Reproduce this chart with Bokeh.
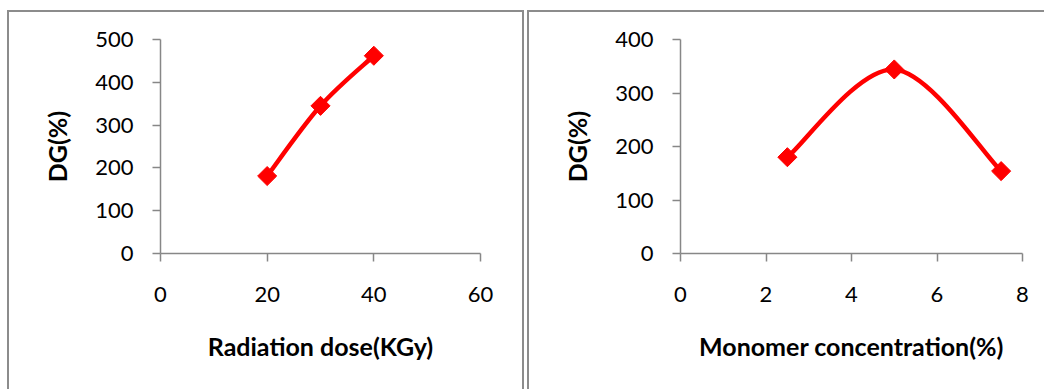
import numpy as np
from bokeh.plotting import figure
from bokeh.layouts import row
from bokeh.models import Range1d, FixedTicker, ColumnDataSource, InlineStyleSheet
from bokeh.embed import file_html
from bokeh.resources import INLINE

# ---- data ----
dose = [20, 30, 40]
dg_dose = [181, 345, 462]
dose_ticks = [0, 20, 40, 60]
dg_dose_ticks = [0, 100, 200, 300, 400, 500]

conc = [2.5, 5, 7.5]
dg_conc = [180, 344, 154]
conc_ticks = [0, 2, 4, 6, 8]
dg_conc_ticks = [0, 100, 200, 300, 400]

RED = "#ff0000"
GRAY = "#878787"
FRAME = "#8c8c8c"
FONT = "Lato"


def smooth_segments(xs, ys, t=1.0 / 6.0):
    xs = np.asarray(xs, float)
    ys = np.asarray(ys, float)
    n = len(xs)
    px = np.concatenate([[xs[0]], xs, [xs[-1]]])
    py = np.concatenate([[ys[0]], ys, [ys[-1]]])
    d = dict(x0=[], y0=[], x1=[], y1=[], cx0=[], cy0=[], cx1=[], cy1=[])
    for i in range(n - 1):
        a, b, c, e = i, i + 1, i + 2, i + 3
        d["x0"].append(px[b]); d["y0"].append(py[b])
        d["x1"].append(px[c]); d["y1"].append(py[c])
        d["cx0"].append(px[b] + (px[c] - px[a]) * t)
        d["cy0"].append(py[b] + (py[c] - py[a]) * t)
        d["cx1"].append(px[c] - (px[e] - px[b]) * t)
        d["cy1"].append(py[c] - (py[e] - py[b]) * t)
    return ColumnDataSource(d)


def frame_css(left, width, right_border):
    rb = f"2px solid {FRAME}" if right_border else "none"
    return InlineStyleSheet(css=f"""
:host {{ position: relative; }}
:host::after {{
  content: "";
  position: absolute;
  left: {left}px; top: 9.5px;
  width: {width}px; height: 379.5px;
  box-sizing: border-box;
  border-left: 2px solid {FRAME};
  border-top: 2px solid {FRAME};
  border-right: {rb};
  border-bottom: none;
  pointer-events: none;
  z-index: 10;
}}
""")


def make_panel(xs, ys, xr, yr, xt, yt, xlabel, width, bl, br, css):
    p = figure(width=width, height=389, output_backend="svg", toolbar_location=None,
               x_range=Range1d(*xr), y_range=Range1d(*yr),
               min_border_left=bl, min_border_right=br,
               min_border_top=39, min_border_bottom=136,
               stylesheets=[css])
    p.outline_line_color = None
    p.grid.visible = False
    p.background_fill_color = "white"
    p.border_fill_color = "white"

    for ax in (p.xaxis[0], p.yaxis[0]):
        ax.axis_line_color = GRAY
        ax.axis_line_width = 1.5
        ax.major_tick_line_color = GRAY
        ax.major_tick_line_width = 1.5
        ax.major_tick_in = 0
        ax.major_tick_out = 8
        ax.minor_tick_line_color = None
        ax.major_label_text_font = FONT
        ax.major_label_text_font_size = "22px"
        ax.major_label_text_color = "#000000"
        ax.axis_label_text_font = FONT
        ax.axis_label_text_font_size = "25px"
        ax.axis_label_text_font_style = "bold"
        ax.axis_label_text_color = "#000000"

    p.xaxis[0].ticker = FixedTicker(ticks=xt)
    p.yaxis[0].ticker = FixedTicker(ticks=yt)
    p.xaxis[0].axis_label = xlabel
    p.yaxis[0].axis_label = "DG(%)"
    p.xaxis[0].major_label_standoff = 25
    p.yaxis[0].major_label_standoff = 19
    p.xaxis[0].axis_label_standoff = 26
    p.yaxis[0].axis_label_standoff = 20

    src = smooth_segments(xs, ys)
    p.bezier(x0="x0", y0="y0", x1="x1", y1="y1", cx0="cx0", cy0="cy0",
             cx1="cx1", cy1="cy1", source=src, line_color=RED, line_width=4.5)
    p.scatter(xs, ys, marker="square", size=13.5, angle=np.pi / 4,
              fill_color=RED, line_color=RED, line_width=1)
    return p


p1 = make_panel(dose, dg_dose, (0, 60), (0, 500), dose_ticks, dg_dose_ticks,
                "Radiation dose(KGy)", 524, 160, 44, frame_css(7, 516.5, True))
p2 = make_panel(conc, dg_conc, (0, 8), (0, 400), conc_ticks, dg_conc_ticks,
                "Monomer concentration(%)", 520, 156, 22, frame_css(3.3, 516.7, False))

p = row(p1, p2)
open("out.html", "w").write(file_html(p, INLINE))
